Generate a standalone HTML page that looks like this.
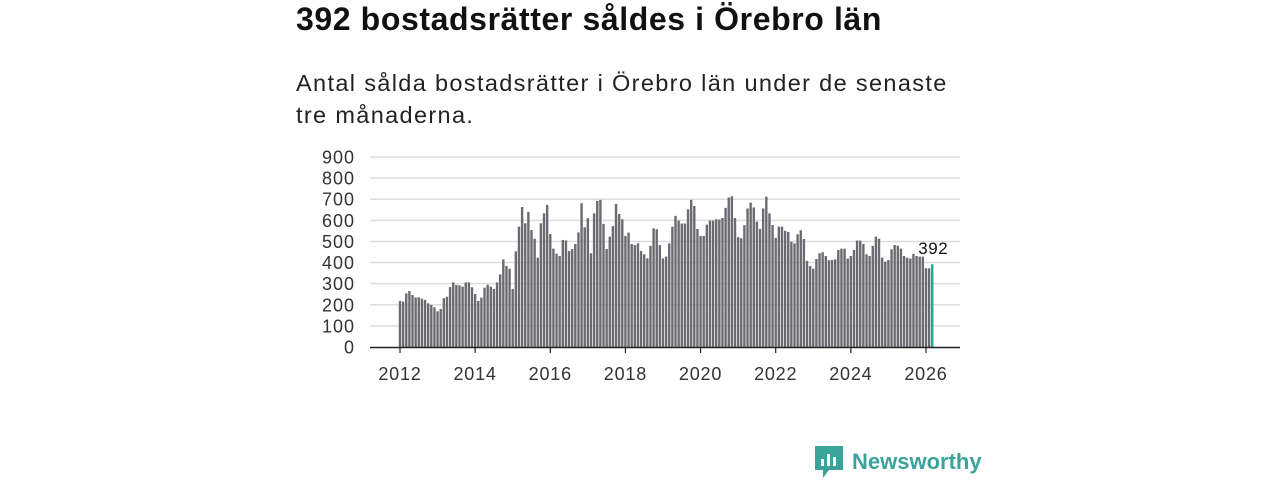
<!DOCTYPE html>
<html><head><meta charset="utf-8"><style>
body{margin:0;width:1280px;height:480px;background:#fff;font-family:"Liberation Sans",sans-serif;overflow:hidden;position:relative}
h1{position:absolute;left:296px;top:1px;margin:0;font-size:32px;font-weight:bold;color:#111;letter-spacing:0.6px}
.sub{position:absolute;left:296px;top:67px;margin:0;font-size:23.5px;line-height:32px;color:#222;width:720px;letter-spacing:1.35px}
</style></head><body>
<h1>392 bostadsrätter såldes i Örebro län</h1>
<p class="sub">Antal sålda bostadsrätter i Örebro län under de senaste<br>tre månaderna.</p>
<svg id="chart" width="1280" height="480" style="position:absolute;left:0;top:0"></svg>
<div style="position:absolute;left:815px;top:446px;display:flex;align-items:center;gap:9px">
<svg width="28" height="32"><path d="M0 0H28V24H14L8 32V24H0Z" fill="#3aa39a"/><rect x="6" y="13" width="3" height="7" fill="#fff"/><rect x="12" y="8" width="3" height="12" fill="#fff"/><rect x="18" y="11" width="3" height="9" fill="#fff"/></svg>
<span style="font-size:22px;font-weight:bold;color:#3aa39a">Newsworthy</span></div>
<script>
const startYear=2012;
const values=[218,215,254,265,246,235,235,229,223,207,199,188,169,180,231,238,284,306,294,292,286,306,306,283,251,218,234,281,295,286,275,306,344,415,384,371,275,453,570,663,586,640,554,513,423,586,633,673,535,466,442,431,507,505,455,464,488,543,681,567,610,444,633,692,697,583,464,523,573,678,630,605,526,542,488,483,491,455,439,420,479,562,558,483,420,428,491,570,621,599,585,585,652,697,668,559,526,526,580,599,599,605,604,611,659,708,714,611,520,515,577,656,684,661,594,559,656,712,633,578,517,570,570,550,545,499,491,534,553,512,408,384,371,417,444,449,431,411,412,415,460,466,466,419,431,460,504,504,488,439,431,479,523,513,423,404,412,463,483,480,466,431,423,419,441,431,428,428,373,373,392];
const yTicks=[0,100,200,300,400,500,600,700,800,900];
const xTicks=[2012,2014,2016,2018,2020,2022,2024,2026];
const NS="http://www.w3.org/2000/svg",svg=document.getElementById('chart');
const y=v=>347-v*(190/900);
const x=t=>400+(t-2012)*37.57;
function mk(tag,a){const e=document.createElementNS(NS,tag);for(const k in a)e.setAttribute(k,a[k]);svg.appendChild(e);return e;}
yTicks.forEach(v=>{
 if(v>0){const g=mk('line',{x1:370,x2:960,y1:y(v),y2:y(v),stroke:'#ddd','stroke-width':1.5});
 
 }
 const t=mk('text',{x:355,y:y(v)+6.5,'text-anchor':'end','font-size':18,'letter-spacing':1,fill:'#333','font-family':'Liberation Sans, sans-serif'});
 t.textContent=v;
 
 
});
values.forEach((v,i)=>{
 const last=i===values.length-1;
 const r=mk('rect',{x:x(startYear+i/12)-1.2,y:y(v),width:2.4,height:347-y(v),fill:last?'#1fa594':'#6b6a70'});
 
 
});
const ax=mk('line',{x1:370,x2:960,y1:347.5,y2:347.5,stroke:'#222','stroke-width':1.5});


xTicks.forEach(yr=>{
 const tk=mk('line',{x1:x(yr),x2:x(yr),y1:347,y2:353,stroke:'#222','stroke-width':1.2});
 
 
 const t=mk('text',{x:x(yr),y:380,'text-anchor':'middle','font-size':18,'letter-spacing':0.8,fill:'#333','font-family':'Liberation Sans, sans-serif'});
 t.textContent=yr;
 
 
});
const li=values.length-1;
const lb=mk('text',{x:x(startYear+li/12)+1,y:y(values[li])-10,'text-anchor':'middle','font-size':17,'letter-spacing':0.5,fill:'#111','font-family':'Liberation Sans, sans-serif'});
lb.textContent=values[li];


</script>
</body></html>
